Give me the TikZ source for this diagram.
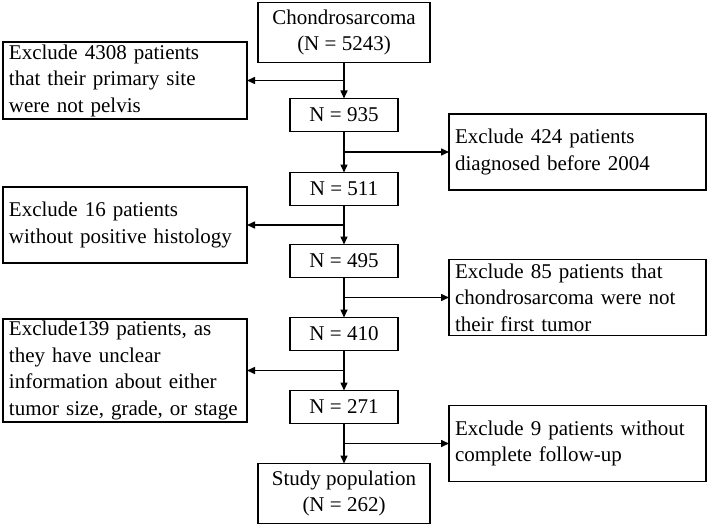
\documentclass[tikz,border=0pt]{standalone}
\usepackage{fontspec}
\setmainfont{Liberation Serif}
\usetikzlibrary{arrows.meta, positioning, calc}
\tikzset{
  countbox/.style = {rectangle, draw=black, line width=1.7pt, outer sep=0pt, align=center, minimum height=33pt, minimum width=108pt, inner sep=2pt},
  bigbox/.style = {countbox, minimum height=60pt, minimum width=172pt},
  exbox/.style = {rectangle, draw=black, line width=1.7pt, outer sep=0pt, align=left, text width=232pt, inner xsep=6pt, inner ysep=2.5pt, minimum height=76pt},
  exboxr/.style = {exbox, text width=245pt},
  line/.style = {-{Triangle[length=8pt, width=7pt]}, line width=1.5pt}
}

\begin{document}
\begin{tikzpicture}[font=\fontsize{21pt}{26.5pt}\selectfont]
\useasboundingbox (0,0) rectangle (709pt,-524pt);

% Main chain
\node[bigbox] (chond) at (344pt,-32.5pt) {Chondrosarcoma\\(N = 5243)};
\node[countbox, below=36pt of chond] (n935) {N = 935};
\node[countbox, below=41pt of n935] (n511) {N = 511};
\node[countbox, below=39pt of n511] (n495) {N = 495};
\node[countbox, below=40pt of n495] (n410) {N = 410};
\node[countbox, below=40pt of n410] (n271) {N = 271};
\node[bigbox, below=40pt of n271] (study) {Study population\\(N = 262)};

% Branch points
\coordinate (b1) at ($(chond.south)!0.5!(n935.north)$);
\coordinate (b2) at ($(n935.south)!0.5!(n511.north)$);
\coordinate (b3) at ($(n511.south)!0.5!(n495.north)$);
\coordinate (b4) at ($(n495.south)!0.5!(n410.north)$);
\coordinate (b5) at ($(n410.south)!0.5!(n271.north)$);
\coordinate (b6) at ($(n271.south)!0.5!(study.north)$);

% Exclusions
\node[exbox, left=97pt of b1] (ex1) {Exclude 4308 patients\\that their primary site\\were not pelvis};
\node[exboxr, right=105pt of b2] (ex2) {Exclude 424 patients\\diagnosed before 2004};
\node[exbox, left=97pt of b3] (ex3) {Exclude 16 patients\\without positive histology};
\node[exboxr, right=105pt of b4] (ex4) {Exclude 85 patients that\\chondrosarcoma were not\\their first tumor};
\node[exbox, left=97pt of b5] (ex5) {Exclude139 patients, as\\they have unclear\\information about either\\tumor size, grade, or stage};
\node[exboxr, right=105pt of b6] (ex6) {Exclude 9 patients without\\complete follow-up};

% Connections
\draw[line] (chond) -- (n935);
\draw[line] (n935) -- (n511);
\draw[line] (n511) -- (n495);
\draw[line] (n495) -- (n410);
\draw[line] (n410) -- (n271);
\draw[line] (n271) -- (study);

\draw[line] (b1) -- (ex1);
\draw[line] (b2) -- (ex2);
\draw[line] (b3) -- (ex3);
\draw[line] (b4) -- (ex4);
\draw[line] (b5) -- (ex5);
\draw[line] (b6) -- (ex6);

\end{tikzpicture}
\end{document}
